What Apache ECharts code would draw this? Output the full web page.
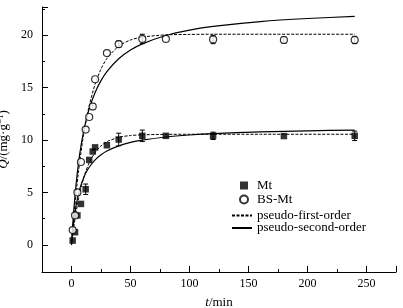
<!DOCTYPE html>
<html>
<head>
<meta charset="utf-8">
<script src="https://cdn.jsdelivr.net/npm/echarts@6/dist/echarts.min.js"></script>
<style>
html, body { margin: 0; padding: 0; background: #fff; }
#chart1 { width: 403px; height: 308px; }
</style>
</head>
<body>
<div id="chart1"></div>
<script>
// 实验数据 (t/min)
var times = [1, 3, 5, 8, 12, 15, 18, 20, 30, 40, 60, 80, 120, 180, 240];
var mtQ = [0.4, 1.2, 2.8, 3.9, 5.3, 8.1, 8.9, 9.3, 9.5, 10.05, 10.4, 10.4, 10.4, 10.38, 10.4];
var mtErr = [0, 0, 0, 0, 0.5, 0, 0, 0, 0, 0.6, 0.55, 0, 0.35, 0, 0.45];
var bsQ = [1.4, 2.8, 5.0, 7.9, 11.0, 12.2, 13.2, 15.8, 18.3, 19.15, 19.65, 19.65, 19.6, 19.55, 19.55];
var bsErr = [0, 0, 0, 0, 0, 0, 0.3, 0, 0, 0.3, 0.45, 0, 0.4, 0.3, 0.35];

// 拟合曲线
var fitT = [0, 1, 2, 4, 6, 8, 10, 12, 15, 20, 25, 30, 40, 50, 60, 80, 100, 120, 160, 200, 240];
var mtFirst = [0, 0.91, 1.74, 3.19, 4.40, 5.41, 6.26, 6.97, 7.82, 8.81, 9.44, 9.84, 10.26, 10.43, 10.50, 10.54, 10.55, 10.55, 10.55, 10.55, 10.55];
var mtSecond = [0, 1.27, 2.28, 3.80, 4.88, 5.69, 6.31, 6.82, 7.40, 8.10, 8.59, 8.95, 9.44, 9.77, 9.99, 10.29, 10.48, 10.61, 10.78, 10.88, 10.95];
var bsFirst = [0, 1.40, 2.69, 5.03, 7.05, 8.80, 10.32, 11.63, 13.27, 15.34, 16.78, 17.78, 18.97, 19.55, 19.83, 20.04, 20.08, 20.1, 20.1, 20.1, 20.1];
var bsSecond = [0, 1.84, 3.40, 5.92, 7.87, 9.41, 10.66, 11.70, 12.97, 14.53, 15.67, 16.54, 17.76, 18.59, 19.18, 19.98, 20.49, 20.85, 21.31, 21.60, 21.80];

// 刻度
var xLabels = [0, 50, 100, 150, 200, 250];
var xMinor = [25, 75, 125, 175, 225];
var yLabels = [0, 5, 10, 15, 20];
var yMinor = [2.5, 7.5, 12.5, 17.5, 22.5];

var font = 'Liberation Serif';

function pairs(xs, ys) {
    return xs.map(function (x, i) { return [x, ys[i]]; });
}
function errPairs(ys, es) {
    var out = [];
    for (var i = 0; i < times.length; i++) {
        if (es[i] > 0) out.push([times[i], ys[i] - es[i], ys[i] + es[i]]);
    }
    return out;
}
function renderError(params, api) {
    var x = api.value(0);
    var lo = api.coord([x, api.value(1)]);
    var hi = api.coord([x, api.value(2)]);
    var w = 2.5;
    var st = { stroke: '#000', lineWidth: 1 };
    return {
        type: 'group',
        children: [
            { type: 'line', shape: { x1: lo[0], y1: lo[1], x2: hi[0], y2: hi[1] }, style: st },
            { type: 'line', shape: { x1: lo[0] - w, y1: lo[1], x2: lo[0] + w, y2: lo[1] }, style: st },
            { type: 'line', shape: { x1: hi[0] - w, y1: hi[1], x2: hi[0] + w, y2: hi[1] }, style: st }
        ]
    };
}

var dashed = { color: '#000', width: 1, type: [3, 1.5] };
var solid = { color: '#000', width: 1.2, type: 'solid' };

option = {
    animation: false,
    textStyle: { fontFamily: font, color: '#000' },
    grid: { left: 42, right: 7, top: 7, bottom: 36, outerBoundsMode: 'none' },
    legend: [{
        data: ['Mt', 'BS-Mt'],
        orient: 'vertical',
        left: 234,
        top: 173.5,
        itemWidth: 8,
        itemHeight: 8,
        itemGap: 0,
        textStyle: { fontFamily: font, fontSize: 13, color: '#000', lineHeight: 14, padding: [0, 0, 0, 4] }
    }, {
        data: ['pseudo-first-order', 'pseudo-second-order'],
        orient: 'vertical',
        left: 226,
        top: 204,
        itemWidth: 20,
        itemHeight: 8,
        itemGap: -0.5,
        itemStyle: { color: 'transparent', borderWidth: 0 },
        textStyle: { fontFamily: font, fontSize: 13, color: '#000', lineHeight: 13 }
    }],
    xAxis: [{
        type: 'value',
        min: -25,
        max: 275,
        position: 'bottom',
        name: '{i|t}/min',
        nameLocation: 'middle',
        nameGap: 24,
        nameTextStyle: {
            fontFamily: font, fontSize: 13, color: '#000',
            rich: { i: { fontFamily: font, fontSize: 13, fontStyle: 'italic' } }
        },
        axisLine: { show: true, onZero: false, lineStyle: { color: '#000', width: 1 } },
        axisTick: { show: true, inside: true, length: 6, customValues: xLabels.concat([275]), lineStyle: { color: '#000' } },
        axisLabel: { customValues: xLabels, fontFamily: font, fontSize: 12, color: '#000', margin: 6 },
        splitLine: { show: false }
    }, {
        type: 'value',
        min: -25,
        max: 275,
        position: 'bottom',
        axisLine: { show: false, onZero: false },
        axisTick: { show: true, inside: true, length: 3, customValues: xMinor, lineStyle: { color: '#000' } },
        axisLabel: { show: false },
        splitLine: { show: false }
    }],
    yAxis: [{
        type: 'value',
        min: -2.6,
        max: 22.7,
        position: 'left',
        name: '{i|Q}/(mg·g{s|−1})',
        nameLocation: 'middle',
        nameRotate: 90,
        nameGap: 27,
        nameTextStyle: {
            fontFamily: font, fontSize: 13, color: '#000', lineHeight: 14,
            rich: {
                i: { fontFamily: font, fontSize: 13, fontStyle: 'italic', lineHeight: 14 },
                s: { fontFamily: font, fontSize: 9, verticalAlign: 'top', lineHeight: 14 }
            }
        },
        axisLine: { show: true, onZero: false, lineStyle: { color: '#000', width: 1 } },
        axisTick: { show: true, inside: true, length: 6, customValues: yLabels.concat([22.7]), lineStyle: { color: '#000' } },
        axisLabel: { customValues: yLabels, fontFamily: font, fontSize: 12, color: '#000', margin: 9 },
        splitLine: { show: false }
    }, {
        type: 'value',
        min: -2.6,
        max: 22.7,
        position: 'left',
        axisLine: { show: false, onZero: false },
        axisTick: { show: true, inside: true, length: 3, customValues: yMinor, lineStyle: { color: '#000' } },
        axisLabel: { show: false },
        splitLine: { show: false }
    }],
    series: [
        {
            name: 'pseudo-first-order', type: 'line', data: pairs(fitT, mtFirst),
            symbol: 'none', smooth: 0.25, lineStyle: dashed, itemStyle: { color: '#000' }, z: 2
        },
        {
            name: 'pseudo-first-order', type: 'line', data: pairs(fitT, bsFirst),
            symbol: 'none', smooth: 0.25, lineStyle: dashed, itemStyle: { color: '#000' }, z: 2
        },
        {
            name: 'pseudo-second-order', type: 'line', data: pairs(fitT, mtSecond),
            symbol: 'none', smooth: 0.25, lineStyle: solid, itemStyle: { color: '#000' }, z: 2
        },
        {
            name: 'pseudo-second-order', type: 'line', data: pairs(fitT, bsSecond),
            symbol: 'none', smooth: 0.25, lineStyle: solid, itemStyle: { color: '#000' }, z: 2
        },
        {
            type: 'custom', renderItem: renderError, data: errPairs(mtQ, mtErr), z: 3, silent: true
        },
        {
            type: 'custom', renderItem: renderError, data: errPairs(bsQ, bsErr), z: 3, silent: true
        },
        {
            name: 'Mt', type: 'scatter', data: pairs(times, mtQ),
            symbol: 'rect', symbolSize: 6.5, itemStyle: { color: '#000' }, z: 4
        },
        {
            name: 'BS-Mt', type: 'scatter', data: pairs(times, bsQ),
            symbol: 'circle', symbolSize: 7,
            itemStyle: { color: '#fff', borderColor: '#000', borderWidth: 1.2 }, z: 5
        }
    ]
};

var myChart = echarts.init(document.getElementById('chart1'));
myChart.setOption(option);
</script>
</body>
</html>
